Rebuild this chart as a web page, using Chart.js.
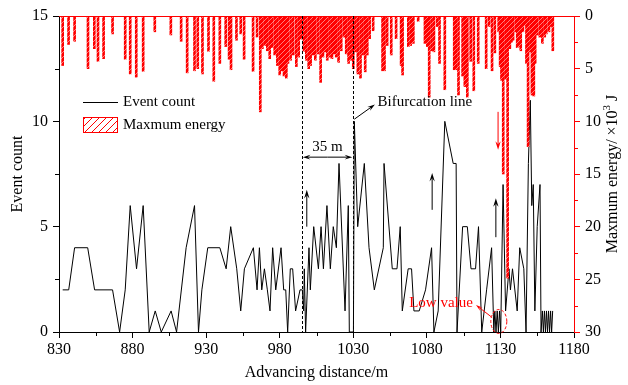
<!DOCTYPE html>
<html>
<head>
<meta charset="utf-8">
<script src="https://cdn.jsdelivr.net/npm/chart.js@4.4.1/dist/chart.umd.min.js"></script>
<style>
  html, body { margin: 0; padding: 0; background: #fff; }
  #wrap { width: 628px; height: 385px; position: relative; }
</style>
</head>
<body>
<div id="wrap"><canvas id="chart"></canvas></div>
<script>
// event count line (advancing distance, count)
const distance = [
  832.5, 836.6, 840.6, 849.5, 854.2, 866.4, 871.2, 875.0, 878.4, 882.7,
  887.2, 891.3, 895.4, 899.5, 906.2, 909.9, 916.4, 922.1, 924.8, 927.1,
  931.1, 939.3, 943.6, 946.7, 950.8, 953.5, 956.0, 962.1, 964.6, 966.2,
  967.8, 969.6, 971.6, 973.4, 975.2, 977.3, 980.9, 982.7, 984.1, 985.4,
  987.2, 988.8, 990.8, 993.8, 995.4, 996.3, 996.7, 997.6, 999.9, 1000.8,
  1003.1, 1006.3, 1008.1, 1009.7, 1012.1, 1014.4, 1016.4, 1018.5, 1020.3, 1024.4,
  1026.6, 1027.3, 1030.1, 1030.7, 1033.0, 1037.5, 1040.7, 1044.3, 1050.4, 1050.9,
  1056.5, 1059.7, 1061.9, 1063.3, 1067.3, 1069.6, 1071.2, 1074.8, 1079.1, 1083.2,
  1084.8, 1087.7, 1092.2, 1097.9, 1099.9, 1100.5, 1104.3, 1107.5, 1110.0, 1113.1,
  1115.1, 1117.3, 1120.6, 1124.0, 1125.5, 1126.2, 1127.0, 1127.8, 1128.6, 1129.4,
  1130.2, 1131.8, 1133.5, 1135.8, 1136.8, 1138.2, 1141.4, 1143.1, 1145.9, 1147.4,
  1149.0, 1150.3, 1151.3, 1152.3, 1153.4, 1155.0, 1156.9, 1157.6, 1158.5, 1159.2,
  1159.9, 1160.6, 1161.3, 1162.0, 1162.7, 1163.4, 1164.1, 1164.8, 1165.5
];
const eventCount = [
  2, 2, 4, 4, 2, 2, 0, 2, 6, 3,
  6, 0, 1, 0, 1, 0, 4, 6, 0, 2,
  4, 4, 3, 5, 3, 1, 3, 4, 2, 4,
  2, 3, 2, 1, 4, 2, 4, 2, 2, 0,
  3, 3, 1, 2, 2, 1, 3, 0, 4, 2,
  5, 3, 5, 3, 6, 3, 5, 4, 8, 1,
  6, 0, 0, 10, 5, 8, 4, 2, 4, 8,
  3, 3, 5, 1, 3, 3, 1, 1, 2, 4,
  0, 1, 10, 8, 8, 0, 5, 5, 3, 3,
  5, 0, 2, 4, 0, 1, 0, 1, 0, 1,
  0, 7, 1, 3, 2, 3, 1, 4, 3, 0,
  8, 11, 6, 7, 1, 5, 7, 0, 1, 0,
  1, 0, 1, 0, 1, 0, 1, 0, 1
];

// maximum energy bars (advancing distance, ×10^3 J)
const barDistance = [
  832.5, 836.5, 840.6, 849.7, 854.0, 856.5, 860.3, 866.4, 875.0, 878.4,
  882.5, 887.2, 895.1, 906.0, 913.0, 917.1, 922.1, 924.3, 927.5, 931.6,
  935.2, 939.3, 943.3, 945.6, 946.9, 950.6, 953.5, 955.8, 961.9, 964.6,
  966.8, 968.2, 969.8, 971.6, 973.2, 974.8, 976.6, 978.4, 980.0, 981.6,
  982.9, 984.5, 985.6, 987.4, 989.2, 991.3, 992.9, 994.7, 996.5, 998.1,
  999.7, 1001.0, 1002.6, 1004.2, 1006.0, 1007.8, 1009.4, 1011.0, 1012.3, 1013.9,
  1015.5, 1016.8, 1018.4, 1020.0, 1021.8, 1023.6, 1025.2, 1026.8, 1028.2, 1030.0,
  1031.5, 1033.1, 1034.9, 1036.3, 1038.1, 1039.5, 1041.1, 1043.5, 1049.9, 1051.2,
  1053.0, 1055.8, 1059.1, 1062.5, 1063.5, 1067.4, 1069.0, 1070.8, 1074.1, 1078.7,
  1080.3, 1081.6, 1083.2, 1084.8, 1087.0, 1088.6, 1092.2, 1098.6, 1099.8, 1101.5,
  1104.3, 1105.8, 1107.5, 1109.8, 1111.9, 1114.9, 1120.3, 1122.3, 1124.3, 1126.2,
  1128.8, 1129.8, 1130.7, 1131.9, 1133.5, 1134.9, 1136.4, 1137.5, 1138.6, 1140.4,
  1141.4, 1142.7, 1143.8, 1145.3, 1146.5, 1147.7, 1148.8, 1150.4, 1151.4, 1152.7,
  1153.6, 1154.9, 1156.7, 1158.5, 1160.1, 1161.2, 1163.0, 1164.6, 1165.6
];
const maxEnergy = [
  4.7, 2.7, 2.4, 5.0, 3.1, 4.3, 4.05, 1.7, 4.1, 5.5,
  5.8, 5.25, 1.5, 1.8, 2.4, 5.4, 5.2, 5.0, 5.5, 3.35,
  6.2, 4.5, 2.9, 4.1, 5.1, 2.3, 1.7, 4.1, 5.25, 2.0,
  9.1, 3.1, 2.8, 3.3, 4.05, 3.0, 3.7, 4.7, 5.6, 5.2,
  5.7, 5.9, 4.5, 4.2, 3.7, 4.8, 3.9, 2.2, 3.35, 4.2,
  5.0, 4.7, 3.7, 4.2, 3.6, 6.3, 3.9, 3.4, 4.2, 3.9,
  4.05, 3.6, 3.9, 4.4, 3.3, 2.0, 3.6, 4.5, 4.2, 5.0,
  3.4, 5.5, 5.9, 3.7, 5.3, 3.7, 2.15, 1.4, 5.2, 5.2,
  2.8, 3.7, 2.15, 4.7, 5.6, 2.9, 2.8, 2.6, 0.5, 2.6,
  2.9, 7.7, 3.3, 3.4, 1.0, 4.5, 7.0, 5.1, 5.1, 7.5,
  5.7, 6.7, 7.7, 4.3, 7.1, 4.5, 5.0, 1.0, 5.2, 3.5,
  1.5, 4.8, 6.1, 15.0, 6.0, 24.9, 3.1, 2.5, 2.3, 1.5,
  3.0, 2.9, 3.3, 1.5, 0.9, 4.5, 12.4, 3.4, 7.5, 7.6,
  4.5, 1.8, 2.0, 2.6, 2.0, 1.7, 1.5, 1.0, 3.3
];

const xMinorTicks = [855, 905, 955, 1005, 1055, 1105, 1155];
const yMinorTicks = [2.5, 7.5, 12.5];
const y1MinorTicks = [2.5, 7.5, 12.5, 17.5, 22.5, 27.5];

// annotation positions (data units)
const workFace = 995;
const bifurcation = 1030;
const upArrows = [[998.4, 5.0, 6.75], [1083.6, 5.8, 7.55], [1126.9, 4.5, 6.35]];

const FONT = "'Liberation Serif', 'Times New Roman', serif";
const ctx = document.getElementById("chart").getContext("2d");

function hatch(bg, line, size) {
  const c = document.createElement("canvas");
  c.width = size; c.height = size;
  const g = c.getContext("2d");
  g.fillStyle = bg;
  g.fillRect(0, 0, size, size);
  g.strokeStyle = line;
  g.lineWidth = 1;
  g.beginPath();
  for (let k = -size; k <= size; k += size) {
    g.moveTo(k, size); g.lineTo(k + size, 0);
  }
  g.stroke();
  return ctx.createPattern(c, "repeat");
}

function arrow(c, x1, y1, x2, y2, color, head) {
  c.save();
  c.strokeStyle = color; c.fillStyle = color; c.lineWidth = 1;
  const a = Math.atan2(y2 - y1, x2 - x1);
  c.beginPath();
  c.moveTo(x1, y1);
  c.lineTo(x2 - Math.cos(a) * head * 0.6, y2 - Math.sin(a) * head * 0.6);
  c.stroke();
  c.beginPath();
  c.moveTo(x2, y2);
  c.lineTo(x2 - head * Math.cos(a - 0.3), y2 - head * Math.sin(a - 0.3));
  c.lineTo(x2 - head * 0.6 * Math.cos(a), y2 - head * 0.6 * Math.sin(a));
  c.lineTo(x2 - head * Math.cos(a + 0.3), y2 - head * Math.sin(a + 0.3));
  c.closePath();
  c.fill();
  c.restore();
}

const extras = {
  id: "extras",
  afterDraw(chart) {
    const c = chart.ctx;
    const { left, right, top, bottom } = chart.chartArea;
    const x = chart.scales.x, y = chart.scales.y, y1 = chart.scales.y1;
    c.save();

    // top frame
    c.strokeStyle = "#ff0000"; c.lineWidth = 1;
    c.beginPath(); c.moveTo(left, top + 0.5); c.lineTo(right, top + 0.5); c.stroke();

    // minor ticks
    c.strokeStyle = "#000";
    c.beginPath();
    xMinorTicks.forEach(v => {
      const px = Math.round(x.getPixelForValue(v)) + 0.5;
      c.moveTo(px, bottom); c.lineTo(px, bottom + 4);
    });
    yMinorTicks.forEach(v => {
      const py = Math.round(y.getPixelForValue(v)) + 0.5;
      c.moveTo(left, py); c.lineTo(left - 4, py);
    });
    c.stroke();
    c.strokeStyle = "#ff0000";
    c.beginPath();
    y1MinorTicks.forEach(v => {
      const py = Math.round(y1.getPixelForValue(v)) + 0.5;
      c.moveTo(right, py); c.lineTo(right + 4, py);
    });
    c.stroke();

    // dashed lines
    c.strokeStyle = "#000"; c.setLineDash([3, 2]);
    [workFace, bifurcation].forEach(v => {
      const px = Math.round(x.getPixelForValue(v)) + 0.5;
      c.beginPath(); c.moveTo(px, top); c.lineTo(px, bottom); c.stroke();
    });
    c.setLineDash([]);

    // 35 m span
    const xa = x.getPixelForValue(workFace), xb = x.getPixelForValue(bifurcation);
    const ys = y.getPixelForValue(8.3);
    arrow(c, (xa + xb) / 2, ys, xa + 1, ys, "#000", 8);
    arrow(c, (xa + xb) / 2, ys, xb - 1, ys, "#000", 8);
    c.fillStyle = "#000"; c.font = "15px " + FONT;
    c.textAlign = "center"; c.textBaseline = "middle";
    c.fillText("35 m", (xa + xb) / 2, y.getPixelForValue(8.8));

    // bifurcation label
    arrow(c, xb + 1, y.getPixelForValue(10.1), x.getPixelForValue(1044.7), y.getPixelForValue(10.8), "#000", 8);
    c.textAlign = "left";
    c.fillText("Bifurcation line", x.getPixelForValue(1046.5), y.getPixelForValue(10.9));

    // up arrows
    upArrows.forEach(([d, a, b]) => {
      const px = x.getPixelForValue(d);
      arrow(c, px, y.getPixelForValue(a), px, y.getPixelForValue(b), "#000", 9);
    });

    // red down arrow
    const rx = x.getPixelForValue(1128.4);
    arrow(c, rx, y1.getPixelForValue(9.1), rx, y1.getPixelForValue(12.7), "#ff0000", 9);

    // low value
    c.fillStyle = "#ff0000"; c.textAlign = "right";
    c.fillText("Low value", x.getPixelForValue(1111.3), y.getPixelForValue(1.35));
    arrow(c, x.getPixelForValue(1123.6), y.getPixelForValue(0.73), x.getPixelForValue(1113.4), y.getPixelForValue(1.28), "#ff0000", 7);
    c.strokeStyle = "#ff0000"; c.setLineDash([3, 2]);
    c.beginPath();
    c.ellipse(x.getPixelForValue(1128.9), y.getPixelForValue(0.5), 8, 12, 0, 0, Math.PI * 2);
    c.stroke();
    c.setLineDash([]);

    // legend
    c.strokeStyle = "#000"; c.lineWidth = 1;
    c.beginPath(); c.moveTo(left + 24, top + 86.5); c.lineTo(left + 59, top + 86.5); c.stroke();
    c.fillStyle = hatch("#fff", "#ff0000", 7);
    c.fillRect(left + 24, top + 101, 35, 16);
    c.strokeStyle = "#ff0000";
    c.strokeRect(left + 24.5, top + 101.5, 34, 15);
    c.fillStyle = "#000"; c.textAlign = "left"; c.font = "15px " + FONT;
    c.fillText("Event count", left + 64, top + 86);
    c.fillText("Maxmum energy", left + 64, top + 109);

    // right axis title, reading bottom to top
    c.translate(612, (top + bottom) / 2);
    c.rotate(-Math.PI / 2);
    c.font = "16px " + FONT;
    const p1 = "Maxmum energy/ \u00d710", p2 = "3", p3 = " J";
    const w1 = c.measureText(p1).width;
    c.font = "11px " + FONT;
    const w2 = c.measureText(p2).width;
    c.font = "16px " + FONT;
    const w3 = c.measureText(p3).width;
    let sx = -(w1 + w2 + w3) / 2;
    c.textAlign = "left"; c.textBaseline = "alphabetic";
    c.fillText(p1, sx, 5);
    c.font = "11px " + FONT;
    c.fillText(p2, sx + w1, -2);
    c.font = "16px " + FONT;
    c.fillText(p3, sx + w1 + w2, 5);

    c.restore();
  }
};

const tickFont = { family: FONT, size: 16 };
const plainLabel = (v) => String(v);

new Chart(ctx, {
  type: "bar",
  data: {
    datasets: [
      {
        type: "bar",
        label: "Maxmum energy",
        data: barDistance.map((d, i) => ({ x: d, y: maxEnergy[i] })),
        yAxisID: "y1",
        backgroundColor: hatch("#ff0000", "#ff7a7a", 5),
        borderWidth: 0,
        barThickness: 2,
        order: 0,
      },
      {
        type: "line",
        label: "Event count",
        data: distance.map((d, i) => ({ x: d, y: eventCount[i] })),
        yAxisID: "y",
        borderColor: "#000",
        borderWidth: 1,
        pointRadius: 0,
        tension: 0,
        fill: false,
        order: 1,
      },
    ],
  },
  options: {
    responsive: true,
    maintainAspectRatio: false,
    animation: false,
    devicePixelRatio: 1,
    layout: { padding: { top: 16 } },
    plugins: {
      legend: { display: false },
      tooltip: { enabled: false },
    },
    scales: {
      x: {
        type: "linear",
        min: 830,
        max: 1180,
        offset: false,
        afterFit: (s) => { s.height = 53; },
        grid: { drawOnChartArea: false, offset: false, tickLength: 6, color: "#000", tickColor: "#000" },
        border: { color: "#000", width: 1 },
        ticks: { stepSize: 50, autoSkip: false, maxRotation: 0, padding: 2, color: "#000", font: tickFont, callback: plainLabel },
        title: { display: true, text: "Advancing distance/m", color: "#000", font: tickFont, padding: { bottom: 3 } },
      },
      y: {
        position: "left",
        min: 0,
        max: 15,
        afterFit: (s) => { s.width = 59; },
        grid: { drawOnChartArea: false, tickLength: 6, color: "#000", tickColor: "#000" },
        border: { color: "#000", width: 1 },
        ticks: { stepSize: 5, padding: 5, color: "#000", font: tickFont, callback: plainLabel },
        title: { display: true, text: "Event count", color: "#000", font: tickFont, padding: { top: 8 } },
      },
      y1: {
        position: "right",
        min: 0,
        max: 30,
        reverse: true,
        afterFit: (s) => { s.width = 54; },
        grid: { drawOnChartArea: false, tickLength: 6, color: "#ff0000", tickColor: "#ff0000" },
        border: { color: "#ff0000", width: 1 },
        ticks: { stepSize: 5, padding: 5, color: "#000", font: tickFont, callback: plainLabel },
      },
    },
  },
  plugins: [extras],
});
</script>
</body>
</html>
